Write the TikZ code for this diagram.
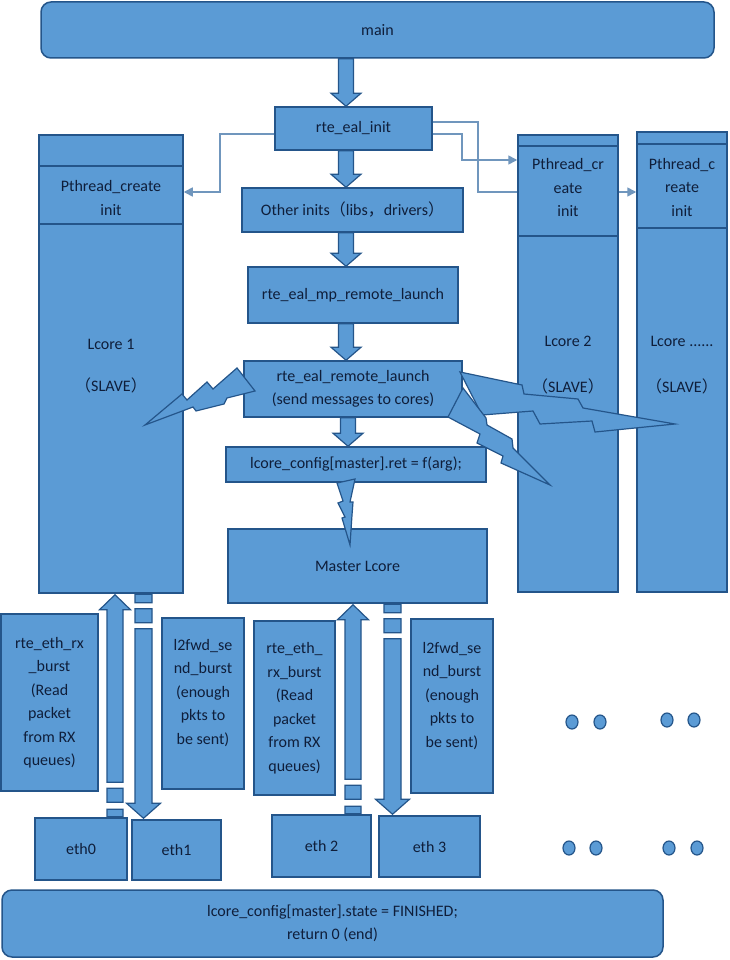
\documentclass[tikz,border=0pt]{standalone}
\usepackage{fontspec}
\setmainfont{Carlito}
\newfontfamily\cjk{Noto Sans CJK SC}
\usetikzlibrary{arrows.meta,calc,shapes.geometric}
\definecolor{boxfill}{HTML}{5B9BD5}
\definecolor{boxline}{HTML}{24558A}
\definecolor{txtcol}{HTML}{0F1E3A}
\definecolor{conncol}{HTML}{7096BD}
\tikzset{
  box/.style={draw=boxline, fill=boxfill, line width=1.5pt, inner sep=0pt, text=txtcol, align=center, font=\fontsize{16}{23.5}\selectfont},
  rbox/.style={box, rounded corners=10pt},
  txt/.style={text=txtcol, align=center, inner sep=0pt, font=\fontsize{16}{23.5}\selectfont},
  blk/.style={draw=boxline, fill=boxfill, line width=1.2pt, line join=miter},
  bolt/.style={draw=boxline, fill=boxfill, line width=1.2pt, line join=miter},
  divider/.style={draw=boxline, line width=1.2pt},
  conn/.style={draw=conncol, line width=1.6pt},
  tipped/.style={-{Triangle[width=9pt,length=9pt]}},
  dotn/.style={ellipse, draw=boxline, fill=boxfill, line width=1.2pt, minimum width=12pt, minimum height=14pt, inner sep=0pt}
}
\newcommand\blkdown[3]{%
  \path[blk] let \p1=(#1,0 |- #2.south), \p2=(#1,0 |- #3.north) in
  (\x1-7.5pt,\y1) -- (\x1+7.5pt,\y1) -- (\x1+7.5pt,\y2+13pt) -- (\x1+15pt,\y2+13pt)
  -- (\x1,\y2) -- (\x1-15pt,\y2+13pt) -- (\x1-7.5pt,\y2+13pt) -- cycle;}
\newcommand\brokenup[3]{%
  \path[blk] let \p1=(#1,0 |- #2.north), \p2=(#1,0 |- #3.south) in
  (\x1-8pt,\y1+35pt) -- (\x1-8pt,\y2-16pt) -- (\x1-15.5pt,\y2-16pt) -- (\x1,\y2-1pt)
  -- (\x1+15.5pt,\y2-16pt) -- (\x1+8pt,\y2-16pt) -- (\x1+8pt,\y1+35pt) -- cycle
  (\x1-8pt,\y1+29pt) rectangle (\x1+8pt,\y1+15pt)
  (\x1-8pt,\y1+8pt) rectangle (\x1+8pt,\y1+0.5pt);}
\newcommand\brokendown[3]{%
  \path[blk] let \p1=(#1,0 |- #2.south), \p2=(#1,0 |- #3.north) in
  (\x1-8.5pt,\y1-0.5pt) rectangle (\x1+8.5pt,\y1-9pt)
  (\x1-8.5pt,\y1-15pt) rectangle (\x1+8.5pt,\y1-29pt)
  (\x1-8.5pt,\y1-35pt) -- (\x1-8.5pt,\y2+16pt) -- (\x1-17pt,\y2+16pt) -- (\x1,\y2+1pt)
  -- (\x1+17pt,\y2+16pt) -- (\x1+8.5pt,\y2+16pt) -- (\x1+8.5pt,\y1-35pt) -- cycle;}
\begin{document}
\begin{tikzpicture}[x=1pt,y=-1pt]
\useasboundingbox[fill=white] (0,0) rectangle (729,960);

% tall core boxes
\node[box, minimum width=144pt, minimum height=458pt] (lcore1) at (111,364) {};
\node[box, minimum width=100pt, minimum height=457pt] (lcore2) at (568,363.5) {};
\node[box, minimum width=90pt, minimum height=460pt] (lcore3) at (682,362) {};
\draw[divider] (lcore1.west |- 0,166) -- (lcore1.east |- 0,166);
\draw[divider] (lcore1.west |- 0,224) -- (lcore1.east |- 0,224);
\draw[divider] (lcore2.west |- 0,146) -- (lcore2.east |- 0,146);
\draw[divider] (lcore2.west |- 0,236) -- (lcore2.east |- 0,236);
\draw[divider] (lcore3.west |- 0,144) -- (lcore3.east |- 0,144);
\draw[divider] (lcore3.west |- 0,228) -- (lcore3.east |- 0,228);
\node[txt] (pc1) at (111,198) {Pthread\_create\\init};
\node[txt] (pc2) at (568,188) {Pthread\_cr\\eate\\init};
\node[txt] (pc3) at (682,187.5) {Pthread\_c\\reate\\init};
\node[txt] (lc1) at (111,366) {Lcore 1\\[18.5pt]{\cjk （}SLAVE{\cjk ）}};
\node[txt] (lc2) at (568,365) {Lcore 2\\[22.5pt]{\cjk （}SLAVE{\cjk ）}};
\node[txt] (lc3) at (682,365) {Lcore ......\\[22.5pt]{\cjk （}SLAVE{\cjk ）}};

% central flow
\node[rbox, minimum width=673pt, minimum height=56pt] (main) at (377.5,30) {main};
\node[box, minimum width=157pt, minimum height=43pt] (init) at (353.5,128.5) {rte\_eal\_init};
\node[box, minimum width=221pt, minimum height=44pt] (other) at (352.5,210) {Other inits{\cjk （}libs{\cjk ，}drivers{\cjk ）}};
\node[box, minimum width=210pt, minimum height=56pt] (mp) at (353,295) {rte\_eal\_mp\_remote\_launch};
\node[box, minimum width=218pt, minimum height=56pt] (remote) at (353,389) {rte\_eal\_remote\_launch\\(send messages to cores)};
\node[box, minimum width=260pt, minimum height=35pt] (ret) at (356,464.5) {lcore\_config[master].ret = f(arg);};
\node[box, minimum width=259pt, minimum height=74pt] (master) at (357.5,566) {Master Lcore};

\blkdown{346}{main}{init}
\blkdown{346}{init}{other}
\blkdown{346}{other}{mp}
\blkdown{346}{mp}{remote}
\blkdown{348}{remote}{ret}

% connectors from rte_eal_init
\draw[conn, tipped] ([yshift=-5.5pt]init.west) -| (220,192) -- (lcore1.east |- 0,192);
\draw[conn, tipped] ([yshift=-5.5pt]init.east) -| (462,160) -- (lcore2.west |- 0,160);
\draw[conn] ([yshift=6.5pt]init.east) -| (478,192) -- (lcore2.west |- 0,192);
\draw[conn, tipped] (lcore2.east |- 0,192) -- (lcore3.west |- 0,192);

% lower boxes
\node[box, minimum width=97pt, minimum height=177pt] (rx1) at (49.5,702.5) {rte\_eth\_rx\\\_burst\\(Read\\packet\\from RX\\queues)};
\node[box, minimum width=82pt, minimum height=171pt] (tx1) at (203,703.5) {};
\node[txt] (tx1t) at (203,693) {l2fwd\_se\\nd\_burst\\(enough\\pkts to\\be sent)};
\node[box, minimum width=81pt, minimum height=174pt] (rx2) at (294.5,708) {rte\_eth\_\\rx\_burst\\(Read\\packet\\from RX\\queues)};
\node[box, minimum width=82pt, minimum height=174pt] (tx2) at (452,706) {};
\node[txt] (tx2t) at (452,696) {l2fwd\_se\\nd\_burst\\(enough\\pkts to\\be sent)};
\node[box, minimum width=92pt, minimum height=62pt] (eth0) at (81,849) {eth0};
\node[box, minimum width=89pt, minimum height=60pt] (eth1) at (176.5,850) {eth1};
\node[box, minimum width=99pt, minimum height=62pt] (eth2) at (321.5,846) {eth 2};
\node[box, minimum width=101pt, minimum height=61pt] (eth3) at (429.5,846.5) {eth 3};
\node[rbox, minimum width=661pt, minimum height=67pt] (finish) at (332.5,923.5) {lcore\_config[master].state = FINISHED;\\return 0 (end)};

\brokenup{115}{eth0}{lcore1}
\brokendown{143.5}{lcore1}{eth1}
\brokenup{353}{eth2}{master}
\brokendown{392.5}{master}{eth3}

% dots
\node[dotn] (d1) at (572,722) {};
\node[dotn] (d2) at (600,722) {};
\node[dotn] (d3) at (667,720) {};
\node[dotn] (d4) at (694,720) {};
\node[dotn] (d5) at (569,848) {};
\node[dotn] (d6) at (596,848) {};
\node[dotn] (d7) at (669,848) {};
\node[dotn] (d8) at (697,848) {};

% lightning bolts
\path[bolt] (145,425) -- (182,394) -- (187,400) -- (207,382) -- (213,389) -- (237,368)
  -- (255,391) -- (227,398) -- (224,404) -- (196,411) -- (193,407) -- cycle;
\path[bolt] (460,372) -- (522,385) -- (524,394) -- (578,399) -- (583,408) -- (675,424)
  -- (595,432) -- (592,421) -- (540,424) -- (533,411) -- (482,415) -- cycle;
\path[bolt] (463,388) -- (448,417) -- (480,434) -- (477,443) -- (503,456) -- (501,463)
  -- (550,485) -- (513,448) -- (512,439) -- (487,425) -- (486,418) -- cycle;
\path[bolt] (337,483) -- (355,479) -- (350,502) -- (353,502) -- (352,515) -- (350,545)
  -- (342,518) -- (345,517) -- (338,503) -- (343,501) -- cycle;
\end{tikzpicture}
\end{document}
